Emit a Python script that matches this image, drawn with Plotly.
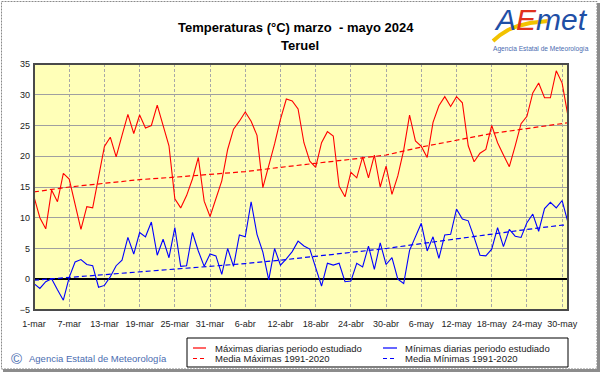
import pandas as pd
import plotly.graph_objects as go

# ---------------- data ----------------
dates = pd.date_range("2024-03-01", "2024-05-31", freq="D")

tmax = [13.4, 10.0, 8.2, 14.5, 12.6, 17.2, 16.3, 12.3, 8.1, 11.8,
        11.6, 16.6, 21.6, 23.1, 19.9, 23.4, 26.8, 23.7, 26.7, 24.6,
        25.0, 28.3, 25.0, 21.7, 13.1, 11.6, 13.6, 16.3, 19.8, 12.7,
        10.2, 13.1, 16.0, 21.1, 24.4, 25.7, 27.2, 25.7, 23.4, 14.9,
        18.3, 22.0, 26.0, 29.3, 29.0, 27.7, 22.2, 19.2, 18.2, 22.2,
        24.0, 23.3, 15.1, 13.4, 17.4, 16.5, 19.9, 16.5, 20.2, 15.0,
        18.4, 13.8, 16.8, 21.0, 26.7, 22.5, 21.6, 19.8, 25.5, 28.2,
        29.7, 28.1, 29.7, 28.7, 21.7, 19.1, 20.5, 21.1, 25.0, 22.2,
        20.2, 18.3, 21.7, 25.3, 26.5, 30.3, 31.9, 29.5, 29.5, 33.9,
        31.9, 26.5]

tmin = [-0.7, -1.5, -0.4, 0.1, -1.7, -3.4, 0.3, 2.8, 3.2, 2.4,
        2.2, -1.3, -1.0, 0.4, 2.2, 3.1, 6.8, 4.1, 7.6, 6.9,
        9.3, 3.9, 6.5, 3.5, 8.4, 2.1, 2.2, 7.6, 4.6, 2.1,
        4.1, 3.8, 0.8, 5.0, 2.1, 7.2, 6.9, 12.6, 7.3, 4.4,
        -0.1, 5.0, 2.3, 3.3, 4.5, 6.2, 5.4, 4.9, 1.9, -1.1,
        2.6, 2.3, 2.6, -0.4, -0.3, 2.6, 2.0, 5.4, 1.6, 5.9,
        2.4, 3.5, 0.0, -0.7, 4.7, 6.9, 9.1, 4.6, 6.9, 3.4,
        7.2, 7.3, 11.4, 9.8, 9.5, 6.8, 3.9, 3.8, 4.9, 8.4,
        5.3, 8.1, 7.0, 6.8, 9.2, 10.6, 7.8, 11.5, 12.5, 11.6,
        12.8, 9.2]

norm_dates = ["2024-03-01", "2024-03-07", "2024-03-13", "2024-03-19",
              "2024-03-25", "2024-03-31", "2024-04-06", "2024-04-12",
              "2024-04-18", "2024-04-24", "2024-04-30", "2024-05-06",
              "2024-05-12", "2024-05-18", "2024-05-24", "2024-05-30",
              "2024-05-31"]
norm_max = [14.2, 15.0, 15.6, 16.2, 16.6, 17.0, 17.5, 18.2, 18.8,
            19.5, 20.2, 21.5, 22.6, 23.7, 24.5, 25.3, 25.45]
norm_min = [-0.15, 0.3, 0.7, 1.2, 1.6, 2.05, 2.55, 3.1, 3.7,
            4.4, 5.0, 5.8, 6.6, 7.4, 8.1, 8.8, 8.85]

tick_vals = norm_dates[:-1]
tick_text = ["1-mar", "7-mar", "13-mar", "19-mar", "25-mar", "31-mar",
             "6-abr", "12-abr", "18-abr", "24-abr", "30-abr", "6-may",
             "12-may", "18-may", "24-may", "30-may"]

title1 = "Temperaturas (°C) marzo  - mayo 2024"
title2 = "Teruel"
legend_labels = ["Máximas diarias periodo estudiado",
                 "Mínimas diarias periodo estudiado",
                 "Media Máximas 1991-2020",
                 "Media Mínimas 1991-2020"]
copyright_text = "Agencia Estatal de Meteorología"

# ---------------- layout helpers ----------------
W_FIG, H_FIG = 601, 374
L, R, T, B = 34, 568, 64, 310
PW, PH = R - L, B - T
FONT = "Liberation Sans, Arial, sans-serif"


def px(x):
    return (x - L) / PW


def py(y):
    return (B - y) / PH


RED = "#FF0000"
BLUE = "#0000FF"

fig = go.Figure()
fig.add_trace(go.Scatter(x=norm_dates, y=norm_max, mode="lines",
                         line=dict(color=RED, width=1.2, dash="5px,3px"),
                         showlegend=False, hoverinfo="skip"))
fig.add_trace(go.Scatter(x=norm_dates, y=norm_min, mode="lines",
                         line=dict(color=BLUE, width=1.2, dash="5px,3px"),
                         showlegend=False, hoverinfo="skip"))
fig.add_trace(go.Scatter(x=dates, y=tmax, mode="lines",
                         line=dict(color=RED, width=1.1),
                         showlegend=False))
fig.add_trace(go.Scatter(x=dates, y=tmin, mode="lines",
                         line=dict(color=BLUE, width=1.1),
                         showlegend=False))

shapes = []
annotations = []

# plot border
shapes.append(dict(type="rect", xref="paper", yref="paper", x0=0, y0=0, x1=1, y1=1,
                   line=dict(color="#4a4a4a", width=2), layer="above"))

# outer frame
shapes.append(dict(type="rect", xref="paper", yref="paper",
                   x0=px(1.5), y0=py(1.5), x1=px(597), y1=py(369),
                   line=dict(color="#8a8a8a", width=1, dash="2px,1px"), layer="below"))
shapes.append(dict(type="line", xref="paper", yref="paper",
                   x0=px(3), y0=py(370.5), x1=px(600), y1=py(370.5),
                   line=dict(color="#8c8c8c", width=3)))
shapes.append(dict(type="line", xref="paper", yref="paper",
                   x0=px(598.5), y0=py(3), x1=px(598.5), y1=py(372),
                   line=dict(color="#8c8c8c", width=3)))

# legend box
shapes.append(dict(type="rect", xref="paper", yref="paper",
                   x0=px(187), y0=py(338), x1=px(568), y1=py(367),
                   line=dict(color="#000000", width=1), fillcolor="white"))
leg_items = [(193, 206, 213, 348, RED, "solid", legend_labels[0]),
             (383, 397, 403, 348, BLUE, "solid", legend_labels[1]),
             (193, 206, 213, 358.5, RED, "4px,3px", legend_labels[2]),
             (383, 397, 403, 358.5, BLUE, "4px,3px", legend_labels[3])]
for x0, x1, xt, yy, col, dsh, lab in leg_items:
    shapes.append(dict(type="line", xref="paper", yref="paper",
                       x0=px(x0), x1=px(x1), y0=py(yy), y1=py(yy),
                       line=dict(color=col, width=1.2, dash=dsh)))
    annotations.append(dict(xref="paper", yref="paper", x=px(xt), y=py(yy),
                            xanchor="left", yanchor="middle", showarrow=False,
                            text=lab, font=dict(family=FONT, size=9.5, color="#1a1a1a")))

# titles
annotations.append(dict(xref="paper", yref="paper", x=px(296), y=py(27),
                        xanchor="center", yanchor="middle", showarrow=False,
                        text="<b>" + title1 + "</b>",
                        font=dict(family=FONT, size=13, color="#000000")))
annotations.append(dict(xref="paper", yref="paper", x=px(300), y=py(45),
                        xanchor="center", yanchor="middle", showarrow=False,
                        text="<b>" + title2 + "</b>",
                        font=dict(family=FONT, size=13, color="#000000")))

# copyright
annotations.append(dict(xref="paper", yref="paper", x=px(16), y=py(358),
                        xanchor="center", yanchor="middle", showarrow=False,
                        text="©", font=dict(family=FONT, size=15, color="#4a6cb0")))
annotations.append(dict(xref="paper", yref="paper", x=px(27), y=py(358),
                        xanchor="left", yanchor="middle", showarrow=False,
                        text=copyright_text,
                        font=dict(family=FONT, size=9.5, color="#4a6cb0")))

# logo swoosh (polyline)
sw = [(493, 41), (500, 35), (508, 30), (518, 26), (530, 23), (548, 21)]
sw_path = "M " + " L ".join("%f,%f" % (px(a), py(b)) for a, b in sw)
shapes.append(dict(type="path", xref="paper", yref="paper", path=sw_path,
                   line=dict(color="#f2c200", width=4), layer="above"))
annotations.append(dict(xref="paper", yref="paper", x=px(541), y=py(20),
                        xanchor="center", yanchor="middle", showarrow=False,
                        text="<i><span style='color:#1f4fa6'>A</span>"
                             "<span style='color:#e0301e'>E</span>"
                             "<span style='color:#1f4fa6'>met</span></i>",
                        font=dict(family=FONT, size=30, color="#1f4fa6")))
annotations.append(dict(xref="paper", yref="paper", x=px(541), y=py(49),
                        xanchor="center", yanchor="middle", showarrow=False,
                        text=copyright_text,
                        font=dict(family=FONT, size=6.6, color="#4a6cb0")))

fig.update_layout(
    width=W_FIG, height=H_FIG,
    margin=dict(l=L, r=W_FIG - R, t=T, b=H_FIG - B, pad=0),
    paper_bgcolor="white",
    plot_bgcolor="#FFFFB8",
    shapes=shapes,
    annotations=annotations,
    showlegend=False,
    font=dict(family=FONT, size=9, color="#222222"),
)
fig.update_xaxes(range=["2024-03-01", "2024-05-31"], tickvals=tick_vals, ticktext=tick_text,
                 showgrid=True, gridcolor="#a8a8a8", gridwidth=1, griddash="3px,2px",
                 zeroline=False, showline=False, ticks="", ticklabelstandoff=7,
                 tickfont=dict(family=FONT, size=9, color="#222222"))
fig.update_yaxes(range=[-5, 35], dtick=5, tick0=0,
                 showgrid=True, gridcolor="#a0a0a0", gridwidth=1,
                 zeroline=True, zerolinecolor="#000000", zerolinewidth=1.5,
                 showline=False, ticks="", ticklabelstandoff=3,
                 tickfont=dict(family=FONT, size=9, color="#222222"))

fig.write_html("out.html", config={"displayModeBar": False},
               post_script="document.body.style.margin='0';document.body.style.overflow='hidden';")
